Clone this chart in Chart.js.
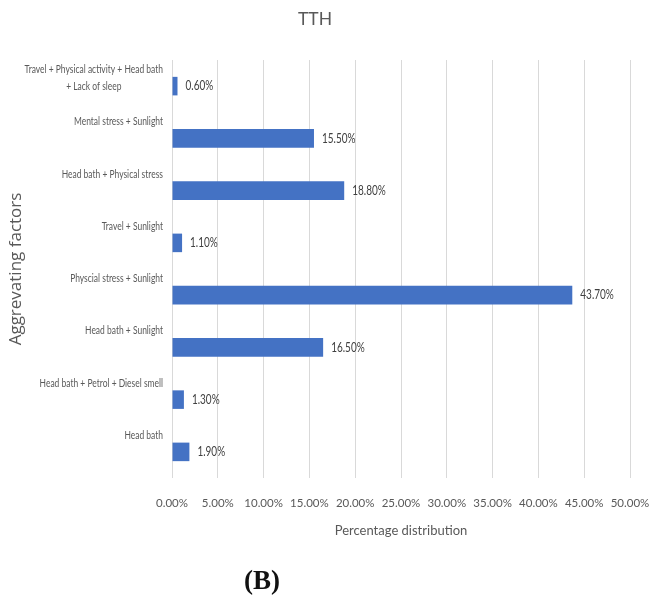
<!DOCTYPE html>
<html>
<head>
<meta charset="utf-8">
<script src="https://cdn.jsdelivr.net/npm/chart.js@4/dist/chart.umd.min.js"></script>
<style>
  html, body { margin: 0; padding: 0; background: #fff; }
  #wrap { position: relative; width: 649px; height: 598px; }
  #chart { display: block; width: 649px; height: 598px; }
  #panel {
    position: absolute; left: 244px; top: 567px;
    font: bold 27px/1 "Liberation Serif", "Times New Roman", serif;
    color: #111;
  }
</style>
</head>
<body>
<div id="wrap">
  <canvas id="chart" width="649" height="598"></canvas>
  <div id="panel">(B)</div>
</div>
<script>
// Aggravating factors for TTH, top to bottom
const categories = [
  ["Travel + Physical activity + Head bath", "+ Lack of sleep"],
  ["Mental stress + Sunlight"],
  ["Head bath + Physical stress"],
  ["Travel + Sunlight"],
  ["Physcial stress + Sunlight"],
  ["Head bath + Sunlight"],
  ["Head bath + Petrol + Diesel smell"],
  ["Head bath"]
];
const percentages = [0.6, 15.5, 18.8, 1.1, 43.7, 16.5, 1.3, 1.9];
const xTicks = [0, 5, 10, 15, 20, 25, 30, 35, 40, 45, 50];

const FONT = 'Lato, "Liberation Sans", sans-serif';
const GREY = '#595959';

// Draws text horizontally condensed by factor k, anchored at x
function condensedText(ctx, text, x, y, k) {
  ctx.save();
  ctx.translate(x, y);
  ctx.scale(k, 1);
  ctx.fillText(text, 0, 0);
  ctx.restore();
}

// Category names drawn above each bar; multi-line names are centred line by line
const categoryLabels = {
  id: 'categoryLabels',
  afterDraw(chart) {
    const y = chart.scales.y;
    const ctx = chart.ctx;
    const k = 0.77;
    ctx.save();
    ctx.font = '11px ' + FONT;
    ctx.fillStyle = GREY;
    ctx.textBaseline = 'middle';
    ctx.textAlign = 'center';
    const right = chart.chartArea.left - 9;
    const lineGap = 16.5;
    chart.data.labels.forEach((lines, i) => {
      const py = y.getPixelForTick(i);
      const w = k * Math.max(...lines.map(l => ctx.measureText(l).width));
      lines.forEach((l, j) => {
        condensedText(ctx, l, right - w / 2, py - lineGap + j * lineGap, k);
      });
    });
    ctx.restore();
  }
};

// Value labels at the end of each bar
const valueLabels = {
  id: 'valueLabels',
  afterDatasetsDraw(chart) {
    const ctx = chart.ctx;
    ctx.save();
    ctx.font = '13.5px ' + FONT;
    ctx.fillStyle = '#404040';
    ctx.textBaseline = 'middle';
    ctx.textAlign = 'left';
    chart.getDatasetMeta(0).data.forEach((bar, i) => {
      const v = chart.data.datasets[0].data[i];
      condensedText(ctx, v.toFixed(2) + '%', bar.x + 8, bar.y, 0.74);
    });
    ctx.restore();
  }
};

new Chart(document.getElementById('chart'), {
  type: 'bar',
  data: {
    labels: categories,
    datasets: [{
      data: percentages,
      backgroundColor: '#4472C4',
      borderWidth: 0,
      categoryPercentage: 1,
      barPercentage: 0.355
    }]
  },
  options: {
    indexAxis: 'y',
    responsive: false,
    animation: false,
    layout: { padding: { left: 0, right: 19, top: 0, bottom: 43 } },
    plugins: {
      legend: { display: false },
      tooltip: { enabled: false },
      title: {
        display: true,
        text: 'TTH',
        color: GREY,
        font: { family: FONT, size: 17.5, weight: 'normal' },
        padding: { top: 8.5, bottom: 30.5 }
      }
    },
    scales: {
      x: {
        min: 0,
        max: 50,
        afterBuildTicks(scale) { scale.ticks = xTicks.map(v => ({ value: v })); },
        afterFit(scale) {
          scale.height = 77;
          scale.paddingLeft = 0;
          scale.paddingRight = 0;
        },
        grid: { color: '#d9d9d9', lineWidth: 1, drawTicks: false },
        border: { display: false },
        ticks: {
          padding: 18,
          color: GREY,
          autoSkip: false,
          maxRotation: 0,
          font: { family: FONT, size: 11.5 },
          callback: v => Number(v).toFixed(2) + '%'
        },
        title: {
          display: true,
          text: 'Percentage distribution',
          color: GREY,
          font: { family: FONT, size: 13 },
          padding: { top: 0, bottom: 16 }
        }
      },
      y: {
        afterFit(scale) { scale.width = 172; },
        grid: { display: false },
        border: { display: false },
        ticks: { display: false },
        title: {
          display: true,
          text: 'Aggrevating factors',
          color: GREY,
          font: { family: '"Open Sans", sans-serif', size: 17 },
          padding: { top: 6, bottom: 4 }
        }
      }
    }
  },
  plugins: [categoryLabels, valueLabels]
});
</script>
</body>
</html>
